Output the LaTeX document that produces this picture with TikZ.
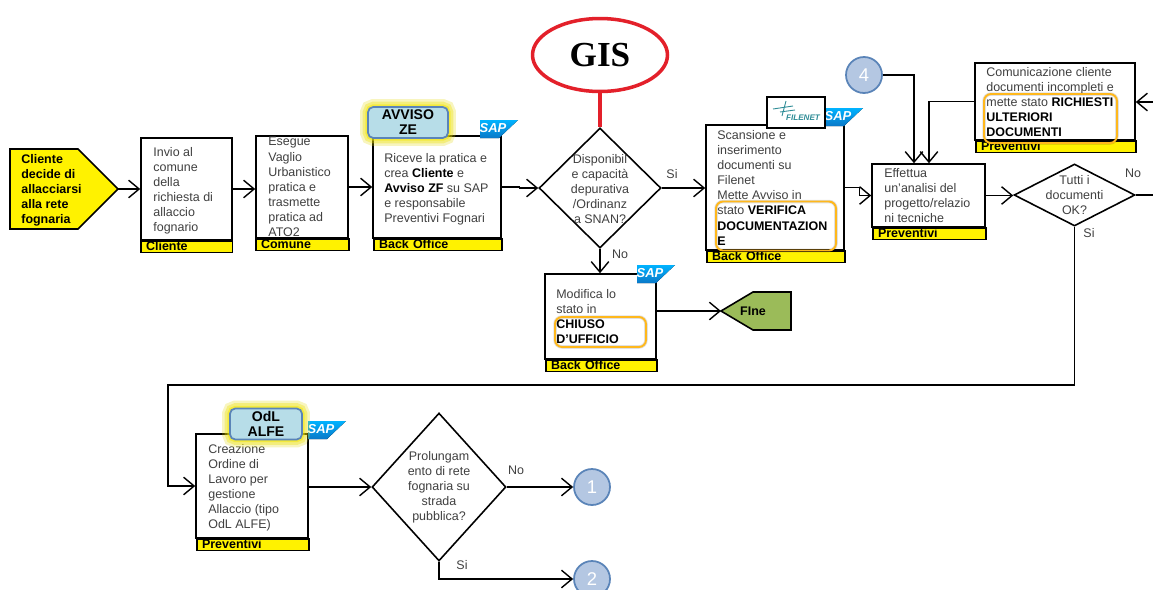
\documentclass[tikz,border=0pt]{standalone}
\usepackage{fontspec}
\setmainfont{Liberation Sans}
\newfontfamily\gisfont{Liberation Serif}
\usetikzlibrary{shapes.geometric,arrows.meta,calc}
\definecolor{testo}{HTML}{404040}
\definecolor{sapblu}{HTML}{0A78C8}
\definecolor{cerchio}{HTML}{B4C7E2}
\definecolor{bordo}{HTML}{5A84B8}
\definecolor{badge}{HTML}{B7DDE8}
\definecolor{verde}{HTML}{9BBB59}
\definecolor{arancio}{HTML}{FFB81C}
\definecolor{rosso}{HTML}{E3202A}
\definecolor{teal}{HTML}{2E8C96}
\begin{document}
\begin{tikzpicture}[x=0.02cm,y=-0.02cm]

\tikzset{>={Straight Barb[length=6pt,width=10pt,line width=.8pt]},}
\tikzset{mybox/.style={rectangle,draw,fill=white,line width=.9pt,inner sep=0pt},}
\tikzset{myfoot/.style={rectangle,draw,fill=yellow,line width=.9pt,anchor=north west,inner xsep=3pt,inner ysep=0pt,text height=5.3pt,text depth=1.3pt,align=left,font=\fontsize{7.1}{8.6}\selectfont\bfseries},}
\tikzset{mytext/.style={anchor=north west,inner sep=0pt,align=left,text=testo,font=\fontsize{7.1}{8.6}\selectfont},}
\tikzset{mytext2/.style={mytext,anchor=center,align=center},}
\tikzset{mydiamond/.style={diamond,draw,fill=white,line width=.9pt,inner sep=0pt},}
\tikzset{mycircle/.style={circle,draw=bordo,fill=cerchio,line width=1pt,minimum size=.72cm,inner sep=0pt,text=white,font=\fontsize{10.5}{12}\selectfont},}
\tikzset{mybadge/.style={rectangle,rounded corners=3pt,draw=bordo,fill=badge,line width=1pt,inner sep=0pt,align=center,font=\fontsize{8}{8.6}\selectfont\bfseries,
  preaction={draw=yellow!75!olive,line width=9pt,opacity=.25},preaction={draw=yellow!85!olive,line width=6pt,opacity=.35},preaction={draw=yellow!90!olive,line width=3pt,opacity=.5}},}
\tikzset{myhigh/.style={rectangle,rounded corners=4pt,draw=arancio,line width=1.1pt,inner sep=0pt,preaction={draw=black,line width=2pt,opacity=.12}},}
\tikzset{mylabel/.style={inner sep=0pt,text=testo,font=\fontsize{7.1}{8.6}\selectfont},}
\tikzset{saplogo/.pic={
  \fill[top color=cyan!70!blue,bottom color=sapblu] (0,0) -- (38,0) -- (19,18) -- (0,18) -- cycle;
  \node[inner sep=0pt,text=white,font=\fontsize{7.4}{8}\selectfont\bfseries\itshape] (-txt) at (13,8) {SAP};
}}

\useasboundingbox (0,0) rectangle (1153,589);
\clip (0,0) rectangle (1153,589);

%INIZIO
\draw[line width=.9pt,fill=yellow] (10,149) -- (78,149) -- (118,189) -- (78,229) -- (10,229) -- cycle;
\coordinate (start) at (118,189);
\draw (21,154) node [mytext,text=black,font=\fontsize{7.1}{8.6}\selectfont\bfseries] (startT) {Cliente\\decide di\\allacciarsi\\alla rete\\fognaria};

%PRIMA RIGA
\draw (186.5,189) node [mybox,minimum width=1.82cm,minimum height=2.04cm] (invio) {};
\draw (153,147) node [mytext] (invioT) {Invio al\\comune\\della\\richiesta di\\allaccio\\fognario};
\draw (140,240) node [myfoot,text width=1.62cm] (invioF) {Cliente};

\draw (302,187) node [mybox,minimum width=1.84cm,minimum height=2.04cm] (comune) {};
\draw (268,137) node [mytext] (comuneT) {Esegue\\Vaglio\\Urbanistico\\pratica e\\trasmette\\pratica ad\\ATO2};
\draw (255,238) node [myfoot,text width=1.65cm] (comuneF) {Comune};

\draw (437,187) node [mybox,minimum width=2.56cm,minimum height=2.04cm] (ricevi) {};
\draw (384,153) node [mytext] (riceviT) {Riceve la pratica e\\crea \textcolor{black}{\textbf{Cliente}} e\\\textcolor{black}{\textbf{Avviso ZF}} su SAP\\e responsabile\\Preventivi Fognari};
\draw (373,238) node [myfoot,text width=2.35cm] (riceviF) {Back Office};
\pic (sap1) at (480,120) {saplogo};
\draw (408,122.5) node [mybadge,minimum width=1.6cm,minimum height=.62cm] (avviso) {AVVISO\\ZE};

%GIS
\draw (600,188) node [mydiamond,minimum width=2.44cm,minimum height=2.4cm,aspect=1.02] (dispo) {};
\draw (600,189) node [mytext2] (dispoT) {Disponibil\\e capacità\\depurativa\\/Ordinanz\\a SNAN?};
\draw (600,55) node [ellipse,draw=rosso,line width=2pt,minimum width=2.7cm,minimum height=1.46cm,inner sep=0pt,font=\gisfont\fontsize{20}{22}\selectfont\bfseries] (gis) {GIS};
\draw[rosso,line width=2pt] (gis) -- (dispo);

%FILENET
\draw (775,187.5) node [mybox,minimum width=2.76cm,minimum height=2.5cm] (scan) {};
\draw (717,130) node [mytext] (scanT) {Scansione e\\inserimento\\documenti su\\Filenet\\Mette Avviso in\\stato \textcolor{black}{\textbf{VERIFICA}}\\\textcolor{black}{\textbf{DOCUMENTAZION}}\\\textcolor{black}{\textbf{E}}};
\draw (706,250) node [myfoot,text width=2.55cm] (scanF) {Back Office};
\draw (776,226) node [myhigh,minimum width=2.4cm,minimum height=.98cm] (scanH) {};
\pic (sap2) at (825,108) {saplogo};
\draw (796,112.5) node [mybox,minimum width=1.16cm,minimum height=.62cm] (file) {};
\draw (803,118) node [inner sep=0pt,text=teal,font=\fontsize{4.6}{5}\selectfont\itshape\bfseries] (fileT) {FILENET};
\draw[teal,line width=.5pt] (773,109) -- (793,106) (780,112) -- (795,110) (786,101) -- (782,116);

%MODIFICA
\draw (600.5,316.5) node [mybox,minimum width=2.22cm,minimum height=1.7cm] (chiuso) {};
\draw (556,289) node [mytext] (chiusoT) {Modifica lo\\stato in\\\textcolor{black}{\textbf{CHIUSO}}\\\textcolor{black}{\textbf{D’UFFICIO}}};
\draw (545,359) node [myfoot,text width=2.01cm] (chiusoF) {Back Office};
\draw (600.5,332) node [myhigh,minimum width=1.82cm,minimum height=.6cm] (chiusoH) {};
\pic (sap3) at (637,265) {saplogo};
\draw[line width=.9pt,fill=verde] (721,311) -- (753,292) -- (791,292) -- (791,330) -- (753,330) -- cycle;
\coordinate (fine) at (721,311);
\draw (753,311) node [inner sep=0pt,font=\fontsize{7.1}{8.6}\selectfont\bfseries] (fineT) {FIne};

%PREVENTIVI
\draw (864,75) node [mycircle] (c4) {4};
\draw (1055,101.5) node [mybox,minimum width=3.2cm,minimum height=1.54cm] (comunica) {};
\draw (986,67) node [mytext] (comunicaT) {Comunicazione cliente\\documenti incompleti e\\mette stato \textcolor{black}{\textbf{RICHIESTI}}\\\textcolor{black}{\textbf{ULTERIORI}}\\\textcolor{black}{\textbf{DOCUMENTI}}};
\draw (975,140) node [myfoot,text width=2.99cm] (comunicaF) {Preventivi};
\draw (1050.5,118.5) node [myhigh,minimum width=2.66cm,minimum height=.98cm] (comunicaH) {};
\draw (928.5,195.5) node [mybox,minimum width=2.26cm,minimum height=1.26cm] (analisi) {};
\draw (884,168) node [mytext] (analisiT) {Effettua\\un’analisi del\\progetto/relazio\\ni tecniche};
\draw (872,227) node [myfoot,text width=2.05cm] (analisiF) {Preventivi};
\draw (1074.5,195) node [mydiamond,minimum width=2.42cm,minimum height=1.24cm,aspect=1.95] (tutti) {};
\draw (1074.5,195) node [mytext2] (tuttiT) {Tutti i\\documenti\\OK?};
\coordinate (daDestra) at (1153,102);
\coordinate (aDestra) at (1153,195);

%SECONDA RIGA
\draw (252,486) node [mybox,minimum width=2.24cm,minimum height=2.08cm] (odl) {};
\draw (208,444) node [mytext] (odlT) {Creazione\\Ordine di\\Lavoro per\\gestione\\Allaccio (tipo\\OdL ALFE)};
\draw (196,538) node [myfoot,text width=2.03cm] (odlF) {Preventivi};
\pic (sap4) at (308,421) {saplogo};
\draw (266,424) node [mybadge,minimum width=1.44cm,minimum height=.62cm] (alfe) {OdL\\ALFE};
\draw (439,487) node [mydiamond,minimum width=2.68cm,minimum height=2.96cm,aspect=.905] (prolu) {};
\draw (439,487) node [mytext2] (proluT) {Prolungam\\ento di rete\\fognaria su\\strada\\pubblica?};
\draw (592,487) node [mycircle] (c1) {1};
\draw (592,579) node [mycircle] (c2) {2};

%ETICHETTE
\draw (672,174) node [mylabel] (lSi1) {Si};
\draw (620,254) node [mylabel] (lNo1) {No};
\draw (1133,173) node [mylabel] (lNo2) {No};
\draw (1089,233) node [mylabel] (lSi2) {Si};
\draw (516,470) node [mylabel] (lNo3) {No};
\draw (462,565) node [mylabel] (lSi3) {Si};

%FRECCE
\draw[->,line width=.8pt] (start) -- (start -| invio.west);
\draw[->,line width=.8pt] (invio.east) -- (invio.east -| comune.west);
\draw[->,line width=.8pt] (comune.east) -- (ricevi.west);
\draw[->,line width=.8pt] (ricevi.east) -- ++(18,0) |- (dispo.west);
\draw[->,line width=.8pt] (dispo.east) -- (dispo.east -| scan.west);
\draw[->,line width=.8pt] (dispo.south) -- (chiuso.north -| dispo.south);
\draw[->,line width=.8pt] (chiuso.east |- fine) -- (fine);
\draw[->,line width=.8pt] (scan.east) -- ++(15,0) |- (analisi.west);
\draw[->,line width=.8pt] (c4.east) -| (914,0 |- analisi.north);
\draw[->,line width=.8pt] (comunica.west) -| (929,0 |- analisi.north);
\draw[->,line width=.8pt] (analisi.east) -- (analisi.east -| tutti.west);
\draw[line width=.8pt] (tutti.east) -- (aDestra);
\draw[->,line width=.8pt] (daDestra) -- (daDestra -| comunica.east);
\draw[->,line width=.8pt] (tutti.south) |- (168,385) |- (odl.west);
\draw[->,line width=.8pt] (odl.east |- prolu.west) -- (prolu.west);
\draw[->,line width=.8pt] (prolu.east) -- (c1.west);
\draw[->,line width=.8pt] (prolu.south) |- (c2.west);

\end{tikzpicture}
\end{document}
